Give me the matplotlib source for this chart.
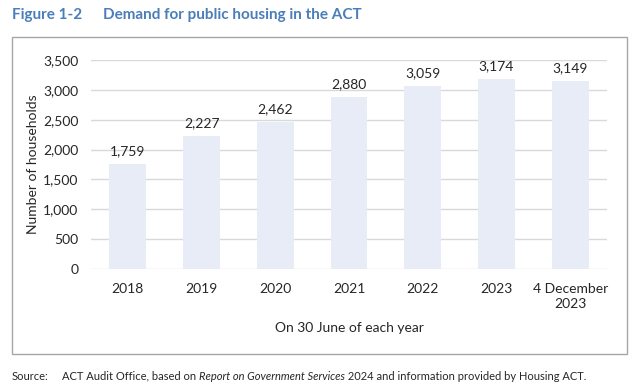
import matplotlib
matplotlib.use("Agg")
import matplotlib.pyplot as plt
from matplotlib.patches import Rectangle

categories = ["2018", "2019", "2020", "2021", "2022", "2023", "4 December\n2023"]
households = [1759, 2227, 2462, 2880, 3059, 3174, 3149]
yticks = [0, 500, 1000, 1500, 2000, 2500, 3000, 3500]

plt.rcParams["font.family"] = ["Lato", "DejaVu Sans"]
text_col = "#262626"

W, H = 642, 392
fig = plt.figure(figsize=(W / 100, H / 100), dpi=100)

# outer frame around the chart
fig.patches.append(Rectangle((12 / W, 1 - 354 / H), 615 / W, 317 / H,
                             transform=fig.transFigure, fill=False,
                             edgecolor="#a6a6a6", lw=1.0))

ax = fig.add_axes([91 / W, 1 - 269 / H, 516 / W, 209 / H])
x = range(len(categories))
ax.bar(x, households, width=0.5, color="#e8ecf6", zorder=2)
for xi, v in zip(x, households):
    ax.annotate(f"{v:,}", (xi, v), xytext=(0, 5), textcoords="offset points",
                ha="center", va="bottom", fontsize=10, color=text_col)

ax.set_xlim(-0.5, len(categories) - 0.5)
ax.set_ylim(0, 3500)
ax.set_yticks(yticks)
ax.set_yticklabels([f"{t:,}" for t in yticks], fontsize=10, color=text_col)
ax.set_xticks(list(x))
ax.set_xticklabels(categories, fontsize=10, color=text_col, va="top", linespacing=1.3)
ax.tick_params(length=0, pad=10)
ax.tick_params(axis="y", pad=9)
ax.grid(axis="y", color="#d9d9d9", lw=1.0, zorder=0)
for s in ax.spines.values():
    s.set_visible(False)
ax.set_ylabel("Number of households", fontsize=10, color=text_col, labelpad=3)
ax.set_xlabel("On 30 June of each year", fontsize=10, color=text_col, labelpad=9)

# title
fig.text(12 / W, 1 - 15 / H, "Figure 1-2", fontsize=11, fontweight="bold",
         color="#4a7ebb", va="center")
fig.text(103 / W, 1 - 15 / H, "Demand for public housing in the ACT", fontsize=11,
         fontweight="bold", color="#4a7ebb", va="center")

# source line with italic title
fig.text(12 / W, 1 - 376 / H, "Source:", fontsize=8, color=text_col, va="center")
parts = [("ACT Audit Office, based on ", "normal"),
         ("Report on Government Services", "italic"),
         (" 2024 and information provided by Housing ACT.", "normal")]
fig.canvas.draw()
r = fig.canvas.get_renderer()
xpos = 62 / W
for txt, st in parts:
    t = fig.text(xpos, 1 - 376 / H, txt, fontsize=8, style=st, color=text_col, va="center")
    bb = t.get_window_extent(renderer=r)
    xpos += bb.width / W

fig.savefig("out.png", dpi=100)
